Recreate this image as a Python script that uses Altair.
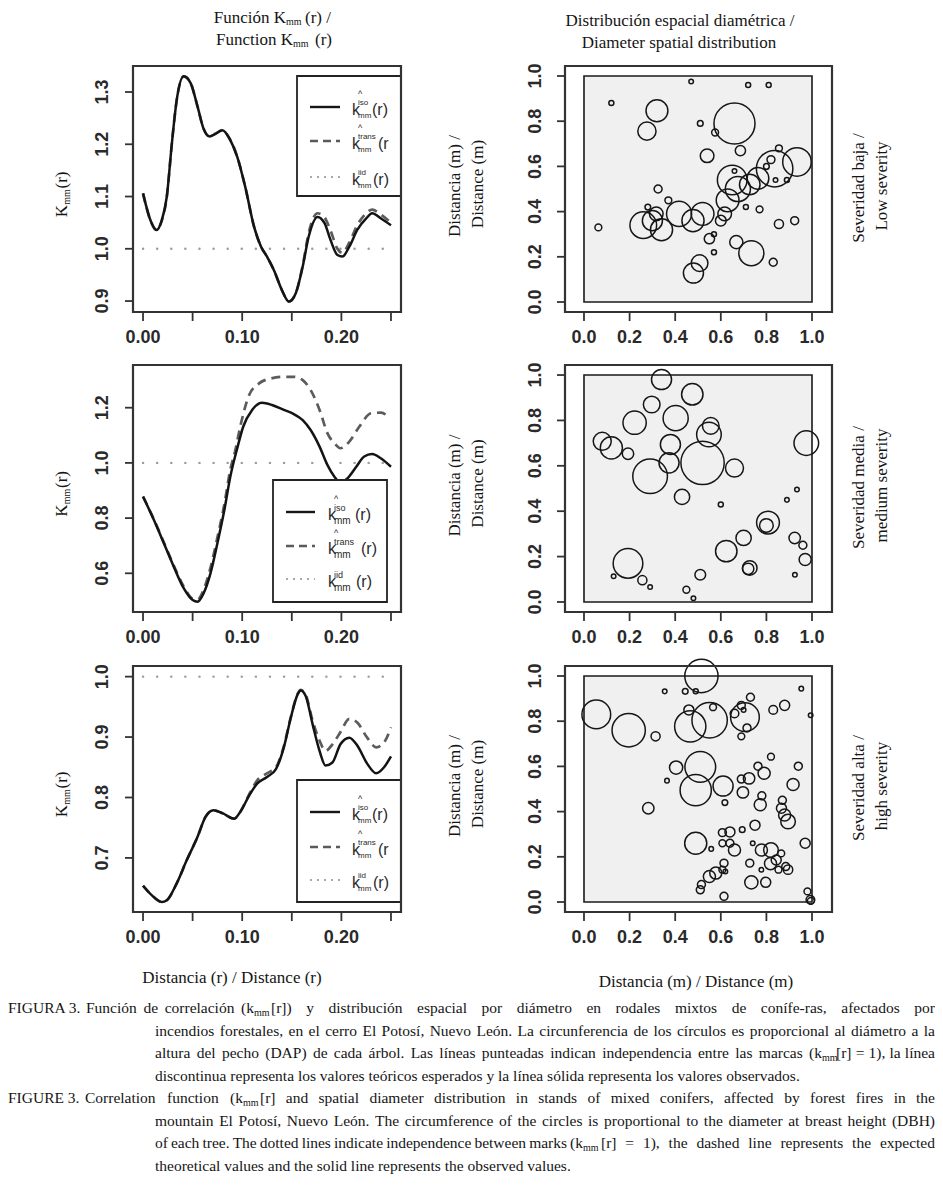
import altair as alt
import pandas as pd

SERIF = "Liberation Serif"
SANS = "Liberation Sans"
INK = "#151515"

# ---------------- data: K_mm(r) curves ----------------
R1 = [0, 0.0074, 0.0135, 0.019, 0.024, 0.029, 0.034, 0.041, 0.048, 0.055,
      0.061, 0.067, 0.073, 0.080, 0.088, 0.095, 0.103, 0.112, 0.119, 0.125,
      0.132, 0.140, 0.147, 0.154, 0.161, 0.167, 0.176, 0.183, 0.189, 0.196,
      0.201, 0.208, 0.216, 0.225, 0.231, 0.240, 0.250]
K1_ISO = [1.106, 1.055, 1.036, 1.055, 1.100, 1.200, 1.285, 1.330, 1.317, 1.272,
          1.230, 1.215, 1.220, 1.227, 1.208, 1.176, 1.119, 1.042, 1.004, 0.985,
          0.959, 0.921, 0.899, 0.915, 0.966, 1.023, 1.061, 1.049, 1.017, 0.988,
          0.985, 1.004, 1.036, 1.058, 1.068, 1.058, 1.045]
K1_TRANS = [1.106, 1.055, 1.036, 1.055, 1.100, 1.200, 1.285, 1.330, 1.317, 1.272,
            1.230, 1.215, 1.220, 1.227, 1.208, 1.176, 1.119, 1.042, 1.004, 0.985,
            0.959, 0.921, 0.899, 0.915, 0.968, 1.030, 1.068, 1.060, 1.035, 1.000,
            0.992, 1.012, 1.045, 1.068, 1.075, 1.065, 1.050]

R2_ISO = [0, 0.011, 0.021, 0.031, 0.041, 0.050, 0.055, 0.061, 0.068, 0.075,
          0.082, 0.088, 0.095, 0.101, 0.110, 0.120, 0.130, 0.142, 0.152, 0.161,
          0.169, 0.178, 0.186, 0.193, 0.199, 0.206, 0.215, 0.223, 0.231, 0.240,
          0.250]
K2_ISO = [0.878, 0.793, 0.709, 0.624, 0.546, 0.503, 0.497, 0.527, 0.600, 0.709,
          0.829, 0.950, 1.053, 1.131, 1.192, 1.218, 1.210, 1.192, 1.177, 1.155,
          1.119, 1.059, 0.992, 0.950, 0.928, 0.944, 0.986, 1.023, 1.032, 1.016,
          0.986]
R2_TRANS = [0, 0.011, 0.021, 0.031, 0.041, 0.050, 0.055, 0.061, 0.068, 0.075,
            0.082, 0.088, 0.093, 0.098, 0.107, 0.117, 0.129, 0.142, 0.152, 0.161,
            0.169, 0.178, 0.186, 0.193, 0.199, 0.208, 0.218, 0.230, 0.240, 0.248]
K2_TRANS = [0.878, 0.795, 0.712, 0.628, 0.552, 0.508, 0.505, 0.540, 0.620, 0.730,
            0.850, 0.975, 1.045, 1.131, 1.246, 1.288, 1.306, 1.312, 1.312, 1.300,
            1.264, 1.192, 1.107, 1.071, 1.053, 1.077, 1.131, 1.180, 1.182, 1.165]

R3 = [0, 0.009, 0.019, 0.024, 0.034, 0.044, 0.055, 0.063, 0.071, 0.080,
      0.092, 0.098, 0.107, 0.115, 0.125, 0.134, 0.142, 0.149, 0.156, 0.159,
      0.164, 0.171, 0.178, 0.184, 0.191, 0.199, 0.208, 0.216, 0.226, 0.235,
      0.243, 0.250]
K3_ISO = [0.654, 0.638, 0.627, 0.630, 0.658, 0.696, 0.735, 0.768, 0.779, 0.774,
          0.765, 0.776, 0.803, 0.823, 0.834, 0.847, 0.883, 0.932, 0.971, 0.977,
          0.968, 0.921, 0.877, 0.853, 0.858, 0.888, 0.899, 0.886, 0.856, 0.840,
          0.850, 0.868]
K3_TRANS = [0.654, 0.638, 0.627, 0.630, 0.658, 0.696, 0.735, 0.768, 0.779, 0.774,
            0.765, 0.776, 0.805, 0.828, 0.840, 0.850, 0.885, 0.933, 0.972, 0.978,
            0.970, 0.927, 0.894, 0.877, 0.888, 0.908, 0.930, 0.924, 0.899, 0.883,
            0.891, 0.916]

# ---------------- data: tree maps (x, y, diameter) ----------------
LOW_X = [0.12, 0.47, 0.72, 0.81, 0.32, 0.276, 0.66, 0.51, 0.575, 0.686,
         0.54, 0.934, 0.836, 0.855, 0.82, 0.80, 0.84, 0.89, 0.65, 0.63,
         0.675, 0.727, 0.763, 0.66, 0.71, 0.77, 0.60, 0.617, 0.52, 0.478,
         0.417, 0.325, 0.37, 0.28, 0.26, 0.30, 0.34, 0.317, 0.063, 0.855,
         0.924, 0.55, 0.57, 0.57, 0.668, 0.734, 0.83, 0.507, 0.48]
LOW_Y = [0.88, 0.976, 0.96, 0.96, 0.846, 0.756, 0.79, 0.79, 0.75, 0.67,
         0.647, 0.62, 0.59, 0.68, 0.63, 0.60, 0.54, 0.54, 0.54, 0.45,
         0.50, 0.52, 0.547, 0.58, 0.42, 0.41, 0.36, 0.39, 0.39, 0.36,
         0.39, 0.50, 0.45, 0.42, 0.34, 0.36, 0.32, 0.39, 0.33, 0.345,
         0.36, 0.28, 0.30, 0.22, 0.265, 0.216, 0.176, 0.172, 0.128]
LOW_D = [0.022, 0.02, 0.022, 0.022, 0.096, 0.08, 0.18, 0.025, 0.03, 0.045,
         0.06, 0.125, 0.16, 0.03, 0.035, 0.025, 0.02, 0.022, 0.13, 0.10,
         0.11, 0.09, 0.095, 0.02, 0.022, 0.03, 0.047, 0.06, 0.10, 0.097,
         0.11, 0.035, 0.03, 0.025, 0.117, 0.088, 0.097, 0.06, 0.03, 0.04,
         0.035, 0.045, 0.022, 0.022, 0.058, 0.11, 0.035, 0.073, 0.088]

MED_X = [0.34, 0.475, 0.297, 0.222, 0.402, 0.556, 0.548, 0.08, 0.12, 0.193,
         0.379, 0.373, 0.29, 0.52, 0.66, 0.43, 0.975, 0.60, 0.89, 0.934,
         0.807, 0.80, 0.70, 0.624, 0.727, 0.72, 0.924, 0.96, 0.97, 0.925,
         0.193, 0.13, 0.256, 0.29, 0.51, 0.449, 0.48]
MED_Y = [0.98, 0.915, 0.87, 0.79, 0.81, 0.776, 0.738, 0.708, 0.679, 0.653,
         0.694, 0.613, 0.554, 0.613, 0.59, 0.463, 0.70, 0.43, 0.45, 0.496,
         0.35, 0.337, 0.282, 0.224, 0.15, 0.146, 0.282, 0.25, 0.187, 0.12,
         0.17, 0.113, 0.096, 0.066, 0.12, 0.054, 0.016]
MED_D = [0.088, 0.094, 0.073, 0.102, 0.11, 0.073, 0.108, 0.079, 0.097, 0.05,
         0.088, 0.088, 0.152, 0.19, 0.079, 0.067, 0.108, 0.022, 0.02, 0.02,
         0.10, 0.06, 0.067, 0.094, 0.064, 0.05, 0.05, 0.035, 0.053, 0.02,
         0.13, 0.02, 0.04, 0.02, 0.047, 0.03, 0.02]

HIGH_X = [0.515, 0.054, 0.196, 0.314, 0.354, 0.444, 0.49, 0.953, 0.73, 0.46,
          0.566, 0.466, 0.551, 0.706, 0.66, 0.69, 0.70, 0.715, 0.69, 0.83,
          0.88, 0.994, 0.51, 0.49, 0.404, 0.364, 0.61, 0.618, 0.69, 0.724,
          0.697, 0.763, 0.79, 0.82, 0.94, 0.917, 0.78, 0.773, 0.87, 0.866,
          0.895, 0.88, 0.282, 0.49, 0.558, 0.607, 0.64, 0.64, 0.66, 0.607,
          0.694, 0.75, 0.74, 0.778, 0.82, 0.818, 0.843, 0.865, 0.885, 0.895,
          0.853, 0.727, 0.778, 0.614, 0.607, 0.62, 0.578, 0.55, 0.515, 0.51,
          0.734, 0.797, 0.614, 0.97, 0.98, 0.993, 0.995]
HIGH_Y = [1.0, 0.83, 0.76, 0.733, 0.932, 0.932, 0.932, 0.944, 0.906, 0.85,
          0.862, 0.777, 0.804, 0.818, 0.834, 0.87, 0.85, 0.77, 0.733, 0.85,
          0.87, 0.826, 0.598, 0.495, 0.595, 0.537, 0.513, 0.44, 0.544, 0.547,
          0.485, 0.601, 0.57, 0.643, 0.601, 0.52, 0.47, 0.43, 0.45, 0.415,
          0.356, 0.385, 0.415, 0.26, 0.235, 0.307, 0.31, 0.26, 0.23, 0.26,
          0.32, 0.34, 0.26, 0.23, 0.23, 0.17, 0.186, 0.215, 0.157, 0.143,
          0.143, 0.172, 0.143, 0.172, 0.143, 0.135, 0.128, 0.113, 0.077, 0.054,
          0.087, 0.087, 0.025, 0.26, 0.047, 0.01, 0.005]
HIGH_D = [0.146, 0.126, 0.146, 0.04, 0.02, 0.025, 0.022, 0.02, 0.035, 0.044,
          0.03, 0.137, 0.155, 0.126, 0.038, 0.035, 0.02, 0.035, 0.03, 0.038,
          0.044, 0.02, 0.135, 0.137, 0.058, 0.02, 0.088, 0.025, 0.035, 0.05,
          0.05, 0.035, 0.053, 0.03, 0.035, 0.053, 0.035, 0.053, 0.035, 0.044,
          0.064, 0.053, 0.05, 0.097, 0.02, 0.035, 0.044, 0.035, 0.053, 0.03,
          0.025, 0.044, 0.02, 0.053, 0.064, 0.053, 0.044, 0.03, 0.035, 0.041,
          0.03, 0.035, 0.02, 0.035, 0.03, 0.02, 0.053, 0.053, 0.035, 0.035,
          0.058, 0.044, 0.035, 0.044, 0.03, 0.038, 0.03]

# ---------------- axis ticks ----------------
R_TICKS = [0, 0.05, 0.10, 0.15, 0.20, 0.25]
R_LABEL_AT = [0, 0.10, 0.20]
R_LABELS = ["0.00", "0.10", "0.20"]
K_YTICKS = [[0.9, 1.0, 1.1, 1.2, 1.3], [0.6, 0.8, 1.0, 1.2], [0.7, 0.8, 0.9, 1.0]]
K_YLABELS = [["0.9", "1.0", "1.1", "1.2", "1.3"], ["0.6", "0.8", "1.0", "1.2"],
             ["0.7", "0.8", "0.9", "1.0"]]
M_TICKS = [0, 0.2, 0.4, 0.6, 0.8, 1.0]
M_LABELS = ["0.0", "0.2", "0.4", "0.6", "0.8", "1.0"]

SEVERITY = [("Severidad baja /", "Low severity"),
            ("Severidad media /", "medium severity"),
            ("Severidad alta /", "high severity")]

# ---------------- layout (page pixels) ----------------
M = 8
K_FRAME_X = (133, 401)
R_FRAME_X = (565, 832)
ROWS = [(66, 312), (365, 612), (666, 912)]
KX_DOM = [-0.0101, 0.2601]
K_YDOM = [[0.879, 1.3498], [0.4598, 1.3547], [0.6105, 1.0176]]
RX_DOM = [-0.0833, 1.0877]
RY_DOM = [-0.0442, 1.0442]

ONE = pd.DataFrame({"a": [0]})
texts = []


def T(x, y, t, size=17, angle=0, font=SERIF, weight="normal", align="center", color=INK):
    texts.append(dict(x=x - M, y=y - M, t=t, size=size, angle=angle,
                      font=font, weight=weight, align=align, color=color))


def legend(box, rows_y, line_x, kx, rx, rtexts, sub_size, sup_size):
    bx0, bx1, by0, by1 = box
    out = [alt.Chart(ONE).mark_rect(fill="white", stroke="#222", strokeWidth=1.8).encode(
        x=alt.value(bx0 - M), x2=alt.value(bx1 - M), y=alt.value(by0 - M), y2=alt.value(by1 - M))]
    styles = [dict(color="#161616", strokeWidth=2.4),
              dict(color="#5a5a5a", strokeWidth=2.4, strokeDash=[8, 5]),
              dict(color="#a8a8a8", strokeWidth=2.0, strokeDash=[2, 5])]
    sups = ["iso", "trans", "iid"]
    hats = [True, True, False]
    for i, y in enumerate(rows_y):
        out.append(alt.Chart(ONE).mark_rule(**styles[i]).encode(
            x=alt.value(line_x[0] - M), x2=alt.value(line_x[1] - M), y=alt.value(y - M)))
        c = "#2a2a2a"
        T(kx, y + 3, "k", size=16, font=SANS, align="left", color=c)
        if hats[i]:
            T(kx + 8, y - 13, "^", size=9, font=SANS, color=c)
        T(kx + 6, y - 4, sups[i], size=sup_size, font=SANS, align="left", color=c)
        T(kx + 6, y + 9, "mm", size=sub_size, font=SANS, align="left", color=c)
        T(rx[i], y + 3, rtexts[i], size=16, font=SANS, align="left", color=c)
    return out


def k_panel(i, r_iso, k_iso, r_tr, k_tr, leg):
    top, bottom = ROWS[i]
    xs = alt.Scale(domain=KX_DOM, range=[K_FRAME_X[0] - M, K_FRAME_X[1] - M], zero=False, nice=False)
    ys = alt.Scale(domain=K_YDOM[i], range=[bottom - M, top - M], zero=False, nice=False)
    X = alt.X("r:Q", scale=xs, axis=None)
    Y = alt.Y("k:Q", scale=ys, axis=None)
    layers = []
    layers.append(alt.Chart(pd.DataFrame({"r": [0, 0.25], "k": [1, 1]})).mark_line(
        color="#9c9c9c", strokeWidth=2.4, strokeDash=[0.1, 14], strokeCap="round").encode(x=X, y=Y))
    layers.append(alt.Chart(pd.DataFrame({"r": r_tr, "k": k_tr})).mark_line(
        color="#5c5c5c", strokeWidth=2.7, strokeDash=[9, 6], interpolate="monotone").encode(x=X, y=Y))
    layers.append(alt.Chart(pd.DataFrame({"r": r_iso, "k": k_iso})).mark_line(
        color="#141414", strokeWidth=2.5, interpolate="monotone").encode(x=X, y=Y))
    layers += legend(**leg)
    frame = pd.DataFrame({"r": [KX_DOM[0]], "r2": [KX_DOM[1]], "k": [K_YDOM[i][0]], "k2": [K_YDOM[i][1]]})
    layers.append(alt.Chart(frame).mark_rect(filled=False, stroke="#333", strokeWidth=2.2).encode(
        x=X, x2="r2:Q", y=Y, y2="k2:Q"))
    layers.append(alt.Chart(pd.DataFrame({"r": R_TICKS})).mark_rule(color="#333", strokeWidth=1.8).encode(
        x=X, y=alt.value(bottom - M), y2=alt.value(bottom - M + 9)))
    layers.append(alt.Chart(pd.DataFrame({"r": R_LABEL_AT, "lab": R_LABELS})).mark_text(
        font=SANS, fontWeight="bold", fontSize=18, color="#2a2a2a", baseline="middle").encode(
        x=X, y=alt.value(bottom + 26 - M), text="lab:N"))
    layers.append(alt.Chart(pd.DataFrame({"k": K_YTICKS[i]})).mark_rule(color="#333", strokeWidth=1.8).encode(
        y=Y, x=alt.value(K_FRAME_X[0] - M - 8), x2=alt.value(K_FRAME_X[0] - M)))
    layers.append(alt.Chart(pd.DataFrame({"k": K_YTICKS[i], "lab": K_YLABELS[i]})).mark_text(
        font=SANS, fontWeight="bold", fontSize=18, color="#2a2a2a", baseline="middle", angle=270).encode(
        y=Y, x=alt.value(103 - M), text="lab:N"))
    return alt.layer(*layers)


def s_panel(i, xv, yv, dv):
    top, bottom = ROWS[i]
    xs = alt.Scale(domain=RX_DOM, range=[R_FRAME_X[0] - M, R_FRAME_X[1] - M], zero=False, nice=False)
    ys = alt.Scale(domain=RY_DOM, range=[bottom - M, top - M], zero=False, nice=False)
    X = alt.X("x:Q", scale=xs, axis=None)
    Y = alt.Y("y:Q", scale=ys, axis=None)
    px_per_unit = (R_FRAME_X[1] - R_FRAME_X[0]) / (RX_DOM[1] - RX_DOM[0])
    layers = []
    win = pd.DataFrame({"x": [0], "x2": [1], "y": [0], "y2": [1]})
    layers.append(alt.Chart(win).mark_rect(fill="#f0f0f0", stroke="#1a1a1a", strokeWidth=1.6).encode(
        x=X, x2="x2:Q", y=Y, y2="y2:Q"))
    layers.append(alt.Chart(pd.DataFrame({"x": xv, "y": yv, "d": dv})).mark_point(
        shape="circle", filled=False, stroke="#161616", strokeWidth=1.5, opacity=1).encode(
        x=X, y=Y,
        size=alt.Size("d:Q", scale=alt.Scale(type="pow", exponent=2, domain=[0, 1],
                                             range=[0, px_per_unit ** 2]), legend=None)))
    frame = pd.DataFrame({"x": [RX_DOM[0]], "x2": [RX_DOM[1]], "y": [RY_DOM[0]], "y2": [RY_DOM[1]]})
    layers.append(alt.Chart(frame).mark_rect(filled=False, stroke="#333", strokeWidth=2.2).encode(
        x=X, x2="x2:Q", y=Y, y2="y2:Q"))
    layers.append(alt.Chart(pd.DataFrame({"x": M_TICKS})).mark_rule(color="#333", strokeWidth=1.8).encode(
        x=X, y=alt.value(bottom - M), y2=alt.value(bottom - M + 9)))
    layers.append(alt.Chart(pd.DataFrame({"x": M_TICKS, "lab": M_LABELS})).mark_text(
        font=SANS, fontWeight="bold", fontSize=18, color="#2a2a2a", baseline="middle").encode(
        x=X, y=alt.value(bottom + 26 - M), text="lab:N"))
    layers.append(alt.Chart(pd.DataFrame({"y": M_TICKS})).mark_rule(color="#333", strokeWidth=1.8).encode(
        y=Y, x=alt.value(R_FRAME_X[0] - M - 8), x2=alt.value(R_FRAME_X[0] - M)))
    layers.append(alt.Chart(pd.DataFrame({"y": M_TICKS, "lab": M_LABELS})).mark_text(
        font=SANS, fontWeight="bold", fontSize=18, color="#2a2a2a", baseline="middle", angle=270).encode(
        y=Y, x=alt.value(536 - M), text="lab:N"))
    return alt.layer(*layers)


LEG = [
    dict(box=(297, 401, 76, 196), rows_y=[107, 141, 177], line_x=(310, 340), kx=352,
         rx=[372, 378, 373], rtexts=["(r)", "(r", "(r)"], sub_size=8, sup_size=8),
    dict(box=(273, 387, 480, 602), rows_y=[512, 546, 579], line_x=(286, 315), kx=328,
         rx=[355, 361, 356], rtexts=["(r)", "(r)", "(r)"], sub_size=10, sup_size=9),
    dict(box=(297, 401, 780, 902), rows_y=[812, 847, 880], line_x=(310, 340), kx=352,
         rx=[372, 378, 373], rtexts=["(r)", "(r", "(r)"], sub_size=8, sup_size=8),
]

panels = [
    k_panel(0, R1, K1_ISO, R1, K1_TRANS, LEG[0]),
    k_panel(1, R2_ISO, K2_ISO, R2_TRANS, K2_TRANS, LEG[1]),
    k_panel(2, R3, K3_ISO, R3, K3_TRANS, LEG[2]),
    s_panel(0, LOW_X, LOW_Y, LOW_D),
    s_panel(1, MED_X, MED_Y, MED_D),
    s_panel(2, HIGH_X, HIGH_Y, HIGH_D),
]

# ---------------- titles and labels ----------------
T(286, 18, "Función K", align="right")
T(286, 22, "mm", size=10, align="left")
T(305, 18, "(r) /", align="left")
T(293, 40, "Function  K", align="right")
T(293, 44, "mm", size=10, align="left")
T(315, 40, "(r)", align="left")
T(680, 21, "Distribución espacial  diamétrica /")
T(679, 43, "Diameter spatial distribution")

for i, (top, bottom) in enumerate(ROWS):
    cy = (top + bottom) / 2 + 6
    T(62, cy + 16, "K", angle=270)
    T(67, cy + 2, "mm", size=10, angle=270)
    T(62, cy - 15, "(r)", angle=270)
    cyr = (top + bottom) / 2 - 3
    T(455, cyr, "Distancia (m) /", angle=270)
    T(478, cyr - 2, "Distance (m)", angle=270)
    cys = (top + bottom) / 2 - 1
    T(859, cys, SEVERITY[i][0], angle=270)
    T(882, cys - 2, SEVERITY[i][1], angle=270)

T(232, 978, "Distancia (r) / Distance (r)")
T(696, 982, "Distancia (m) / Distance (m)")

# ---------------- caption (justified word by word) ----------------
CS = 15.5
SUB = 10
cy0 = [1008, 1030.5, 1053, 1075.5, 1098, 1120.5, 1143, 1165.5]
RIGHT = 935
IND = 155

# Times / Liberation Serif advance widths (1/1000 em) used to justify caption words
TW = {" ": 250, "!": 333, "(": 333, ")": 333, ",": 250, "-": 333, ".": 250, "/": 278,
      ":": 278, "=": 564, "[": 333, "]": 333,
      "A": 722, "B": 667, "C": 667, "D": 722, "E": 611, "F": 556, "G": 722, "H": 722,
      "I": 333, "J": 389, "K": 722, "L": 611, "M": 889, "N": 722, "O": 722, "P": 556,
      "Q": 722, "R": 667, "S": 556, "T": 611, "U": 722, "V": 722, "W": 944, "X": 722,
      "Y": 722, "Z": 611,
      "a": 444, "b": 500, "c": 444, "d": 500, "e": 444, "f": 333, "g": 500, "h": 500,
      "i": 278, "j": 278, "k": 500, "l": 278, "m": 778, "n": 500, "o": 500, "p": 500,
      "q": 500, "r": 333, "s": 389, "t": 278, "u": 500, "v": 500, "w": 722, "x": 500,
      "y": 500, "z": 444, "á": 444, "é": 444, "í": 278, "ó": 500, "ú": 500}


def tw(s):
    return sum(TW.get(ch, 500) for ch in s) * CS / 1000.0


def J(a, b, y, s):
    words = s.split(" ")
    if len(words) == 1:
        T(a, y, s, size=CS, align="left")
        return
    widths = [tw(w) for w in words]
    gap = (b - a - sum(widths)) / (len(words) - 1)
    x = a
    for w, wd in zip(words, widths):
        T(x, y, w, size=CS, align="left")
        x += wd + gap


def C(x, y, t):
    T(x, y, t, size=CS, align="left")


def CSUB(x, y):
    T(x, y + 5, "mm", size=SUB, align="left")


y = cy0[0]
C(8, y, "FIGURA 3.")
J(86, 254, y, "Función de correlación (k")
CSUB(254, y)
J(271, RIGHT, y, "[r]) y distribución espacial por diámetro en rodales mixtos de conífe-ras, afectados por")
y = cy0[1]
J(IND, RIGHT, y, "incendios forestales, en el cerro El Potosí, Nuevo León. La circunferencia de los círculos es proporcional al diámetro a la")
y = cy0[2]
J(IND, 822, y, "altura del pecho (DAP) de cada árbol. Las líneas punteadas indican independencia entre las marcas (k")
CSUB(822, y)
J(836, RIGHT, y, "[r] = 1), la línea")
y = cy0[3]
C(IND, y, "discontinua representa los valores teóricos esperados y la línea sólida representa los valores observados.")
y = cy0[4]
C(8, y, "FIGURE 3.")
J(85, 243, y, "Correlation function (k")
CSUB(243, y)
J(260, RIGHT, y, "[r] and spatial diameter distribution in stands of mixed conifers, affected by forest fires in the")
y = cy0[5]
J(IND, RIGHT, y, "mountain El Potosí, Nuevo León. The circumference of the circles is proportional to the diameter at breast height (DBH)")
y = cy0[6]
J(IND, 583, y, "of each tree. The dotted lines indicate independence between marks (k")
CSUB(583, y)
J(601, RIGHT, y, "[r] = 1), the dashed line represents the expected")
y = cy0[7]
C(IND, y, "theoretical values and the solid line represents the observed values.")

# ---------------- text layers ----------------
tdf = pd.DataFrame(texts)
text_layers = []
for (font, weight, align, color), g in tdf.groupby(["font", "weight", "align", "color"]):
    text_layers.append(
        alt.Chart(g.reset_index(drop=True)).mark_text(
            font=font, fontWeight=weight, align=align, baseline="middle", color=color).encode(
            x=alt.X("x:Q", scale=None, axis=None),
            y=alt.Y("y:Q", scale=None, axis=None),
            text="t:N",
            size=alt.Size("size:Q", scale=None, legend=None),
            angle=alt.Angle("angle:Q", scale=None, legend=None)))

chart = alt.layer(*panels, *text_layers).resolve_scale(
    x="independent", y="independent", size="independent"
).properties(
    width=943 - 2 * M, height=1199 - 2 * M, padding=0,
    autosize=alt.AutoSizeParams(type="none"), background="white"
).configure_view(stroke=None)

chart.save("out.html", embed_options={"renderer": "svg", "actions": False})
